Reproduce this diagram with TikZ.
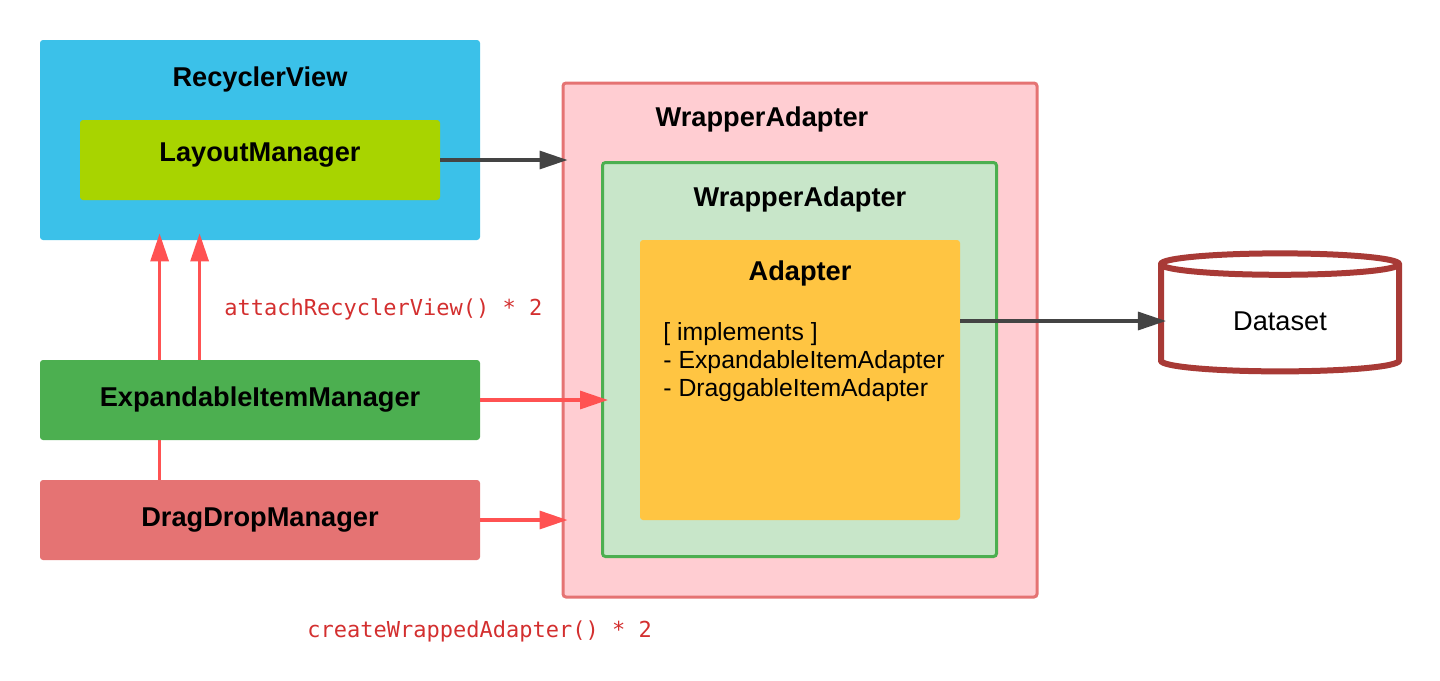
\documentclass[tikz,border=0pt]{standalone}
\usepackage{fontspec}
\setmainfont{Liberation Sans}
\setmonofont{DejaVu Sans Mono}
\usetikzlibrary{arrows.meta,backgrounds,positioning,shapes.geometric}

\definecolor{rvblue}{HTML}{3BC1E9}
\definecolor{lmlime}{HTML}{A8D400}
\definecolor{emgreen}{HTML}{4CAF50}
\definecolor{ddred}{HTML}{E57373}
\definecolor{wapink}{HTML}{FFCDD2}
\definecolor{wagreen}{HTML}{C8E6C9}
\definecolor{adyellow}{HTML}{FFC542}
\definecolor{dsred}{HTML}{A83A36}
\definecolor{callred}{HTML}{FF5252}
\definecolor{labelred}{HTML}{D32F2F}
\definecolor{linkgray}{HTML}{444444}

\tikzset{
  card/.style={rounded corners=1.5pt, inner sep=0pt, font=\fontsize{13.6}{16}\selectfont\bfseries},
  frame/.style={rounded corners=1.5pt, inner sep=0pt, line width=1.5pt},
  heading/.style={font=\fontsize{13.6}{16}\selectfont\bfseries},
  call/.style={-{Triangle[length=14pt,width=9pt]}, line width=1.6pt, callred},
  link/.style={-{Triangle[length=14pt,width=9pt]}, line width=1.6pt, linkgray},
  calllabel/.style={inner sep=0pt, font=\fontsize{11}{13}\selectfont\ttfamily, text=labelred},
}

\begin{document}
\begin{tikzpicture}[x=0.5pt,y=-0.5pt]
\useasboundingbox (0,0) rectangle (1440,680);
% left column
\node[card, fill=rvblue, minimum width=220pt, minimum height=100pt] (rv) at (260,140) {};
\node[heading] (rvt) at (260,79) {RecyclerView};
\node[card, fill=lmlime, minimum width=180pt, minimum height=40pt] (lm) at (260,160) {};
\node[heading] (lmt) at (260,155) {LayoutManager};
\node[card, fill=ddred, minimum width=220pt, minimum height=40pt] (dd) at (260,520) {DragDropManager};
\draw[call] ([xshift=60pt]dd.north west) -- ([xshift=60pt,yshift=3.5pt]rv.south west);
\node[card, fill=emgreen, minimum width=220pt, minimum height=40pt] (em) at (260,400) {ExpandableItemManager};
\draw[call] ([xshift=80pt]em.north west) -- ([xshift=80pt,yshift=3.5pt]rv.south west);
\node[calllabel, anchor=west] (atl) at (224,309) {attachRecyclerView() * 2};

% wrapped adapters
\node[frame, draw=ddred, fill=wapink, minimum width=237pt, minimum height=257pt] (wo) at (800,340) {};
\node[heading] (wot) at (762,119) {WrapperAdapter};
\node[frame, draw=emgreen, fill=wagreen, minimum width=197pt, minimum height=197pt] (wi) at (799.5,359.5) {};
\node[heading] (wit) at (800,199) {WrapperAdapter};
\node[card, fill=adyellow, minimum width=160pt, minimum height=140pt] (ad) at (800,380) {};
\node[heading] (adt) at (800,273) {Adapter};
\node[anchor=west, align=left, inner sep=0pt, font=\fontsize{12.4}{14}\selectfont] (adl) at (663,362) {[ implements ]\\- ExpandableItemAdapter\\- DraggableItemAdapter};

% dataset
\node[cylinder, shape border rotate=90, aspect=0.2, draw=dsred, line width=3pt, minimum width=119pt, minimum height=59pt, font=\fontsize{13.6}{16}\selectfont] (ds) at (1280,321) {Dataset};

% links
\draw[link] (lm.east) -- ([xshift=3pt]lm.east -| wo.west);
\draw[link] (ad.east |- ds.west) -- ([xshift=4pt]ds.west);
\draw[call] (em.east) -- ([xshift=3.5pt]em.east -| wi.west);
\draw[call] (dd.east) -- ([xshift=3pt]dd.east -| wo.west);
\node[calllabel, anchor=west] (cwl) at (307,631) {createWrappedAdapter() * 2};
\end{tikzpicture}
\end{document}
